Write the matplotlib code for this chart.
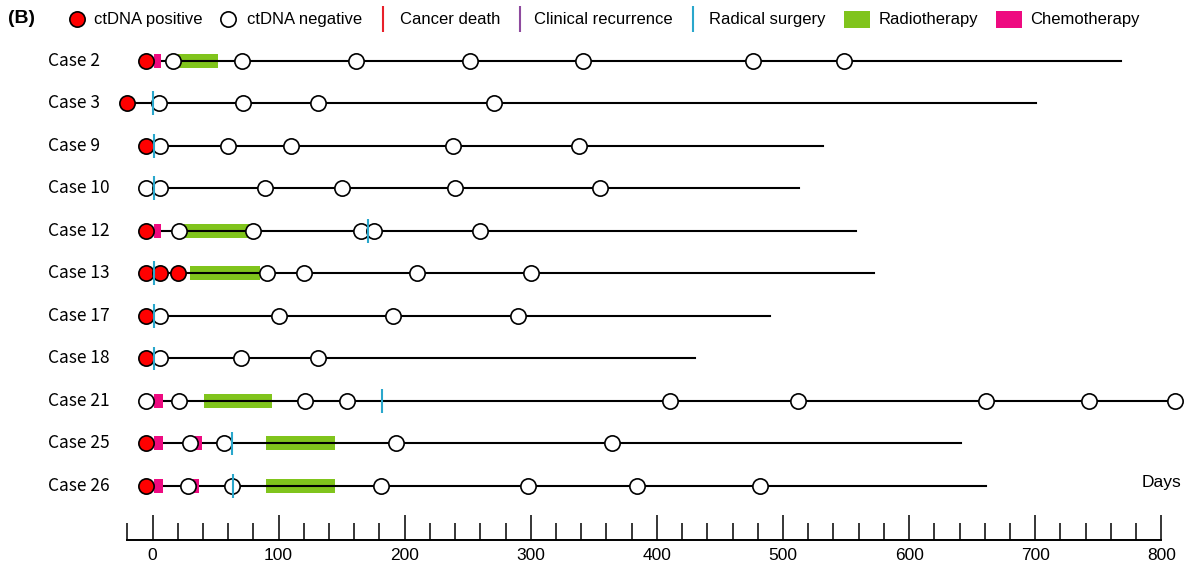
import numpy as np
import matplotlib
matplotlib.use("Agg")
import matplotlib.pyplot as plt

# ---- data (days from baseline) ----
cases = ["Case 2", "Case 3", "Case 9", "Case 10", "Case 12", "Case 13",
         "Case 17", "Case 18", "Case 21", "Case 25", "Case 26"]
follow_end = [768, 701, 532, 513, 558, 572, 490, 430, 811, 641, 661]
pos_days = [[-5], [-20], [-5], [], [-5], [-5, 6, 20], [-5], [-5], [], [-5], [-5]]
neg_days = [[16, 71, 161, 252, 341, 476, 548],
            [5, 72, 131, 271],
            [6, 60, 110, 238, 338],
            [-5, 6, 89, 150, 240, 355],
            [21, 80, 165, 176, 260],
            [91, 120, 210, 300],
            [6, 100, 191, 290],
            [6, 70, 131],
            [-5, 21, 121, 154, 410, 512, 661, 743, 811],
            [30, 57, 193, 364],
            [28, 63, 181, 298, 384, 482]]
surgery_days = [[], [0], [1], [1], [171], [1], [1], [1], [182], [63], [64]]
radio_spans = [[(20, 52)], [], [], [], [(25, 79)], [(30, 85)], [], [], [(41, 95)],
               [(90, 145)], [(90, 145)]]
chemo_spans = [[(1, 7)], [], [], [], [(1, 7)], [], [], [], [(1, 8)],
               [(1, 8), (34, 39)], [(1, 8), (32, 37)]]

legend_labels = ["ctDNA positive", "ctDNA negative", "Cancer death", "Clinical recurrence",
                 "Radical surgery", "Radiotherapy", "Chemotherapy"]

C_RED = "#ff0000"
C_PINK = "#ee0a80"
C_GREEN = "#80c41c"
C_CYAN = "#2aa7cc"
C_PURPLE = "#8e4a9e"
C_DEATH = "#e8202a"

plt.rcParams["font.family"] = ["Liberation Sans", "DejaVu Sans"]

W, H = 1192, 569
fig = plt.figure(figsize=(W / 100, H / 100), dpi=100)

# main timeline axes spans the whole figure; x in days, y in row index
ax = fig.add_axes([0, 0, 1, 1])
px_per_day = 1.261
x0_px = 152.5
ax.set_xlim(-x0_px / px_per_day, (W - x0_px) / px_per_day)
row_px, row0_px = 42.53, 60.7
ax.set_ylim((H - row0_px) / row_px, -row0_px / row_px)
ax.axis("off")

bar_h = 0.33
for i, name in enumerate(cases):
    ax.text(-83, i, name, ha="left", va="center", fontsize=12.5,
            family=["Noto Sans CJK JP", "DejaVu Sans"])
    for s, e in radio_spans[i]:
        ax.barh(i, e - s, left=s, height=bar_h, color=C_GREEN, zorder=1)
    start = min(pos_days[i] + neg_days[i])
    ax.plot([start, follow_end[i]], [i, i], color="black", lw=1.5, zorder=2)
    for s, e in chemo_spans[i]:
        ax.barh(i, e - s, left=s, height=bar_h, color=C_PINK, zorder=3)
    ax.plot(neg_days[i], [i] * len(neg_days[i]), "o", ms=11, mfc="white",
            mec="black", mew=1.2, zorder=4)
    ax.plot(pos_days[i], [i] * len(pos_days[i]), "o", ms=11, mfc=C_RED,
            mec="black", mew=1.2, zorder=5)
    for d in surgery_days[i]:
        ax.vlines(d, i - 0.28, i + 0.28, color=C_CYAN, lw=1.5, zorder=6)

ax.text(800.5, 9.91, "Days", ha="center", va="center", fontsize=12.5)

# day scale below the timelines
left_px = x0_px - 20 * px_per_day
right_px = x0_px + 800 * px_per_day
ax2 = fig.add_axes([left_px / W, 1 - 540 / H, (right_px - left_px) / W, 0.02])
ax2.set_xlim(-20, 800)
for sp in ["top", "left", "right"]:
    ax2.spines[sp].set_visible(False)
ax2.spines["bottom"].set_linewidth(1.4)
ax2.set_yticks([])
ax2.set_xticks(np.arange(0, 801, 100))
ax2.set_xticks(np.arange(-20, 801, 20), minor=True)
ax2.tick_params(axis="x", which="major", direction="in", length=18, width=1.1,
                pad=6, labelsize=12.5)
ax2.tick_params(axis="x", which="minor", direction="in", length=12, width=1.1)
ax2.patch.set_alpha(0)

# legend row, laid out in figure pixels
lax = fig.add_axes([0, 0, 1, 1])
lax.set_xlim(0, W)
lax.set_ylim(H, 0)
lax.axis("off")
lax.patch.set_alpha(0)
ly = 19
key_x = [77, 228, 383, 520, 693, 844, 996]
text_x = [94, 247, 400, 534, 709, 879, 1030]
lax.plot(key_x[0], ly, "o", ms=11, mfc=C_RED, mec="black", mew=1.2)
lax.plot(key_x[1], ly, "o", ms=11, mfc="white", mec="black", mew=1.2)
for k, c in zip(key_x[2:5], [C_DEATH, C_PURPLE, C_CYAN]):
    lax.vlines(k, ly - 13, ly + 13, color=c, lw=1.5)
for k, c in zip(key_x[5:], [C_GREEN, C_PINK]):
    lax.add_patch(plt.Rectangle((k, ly - 8.5), 26, 17, color=c, lw=0))
for tx, lab in zip(text_x, legend_labels):
    lax.text(tx, ly, lab, ha="left", va="center", fontsize=12)

lax.text(8, 18, "(B)", fontsize=14, fontweight="bold", va="center")

fig.savefig("out.png", dpi=100)
